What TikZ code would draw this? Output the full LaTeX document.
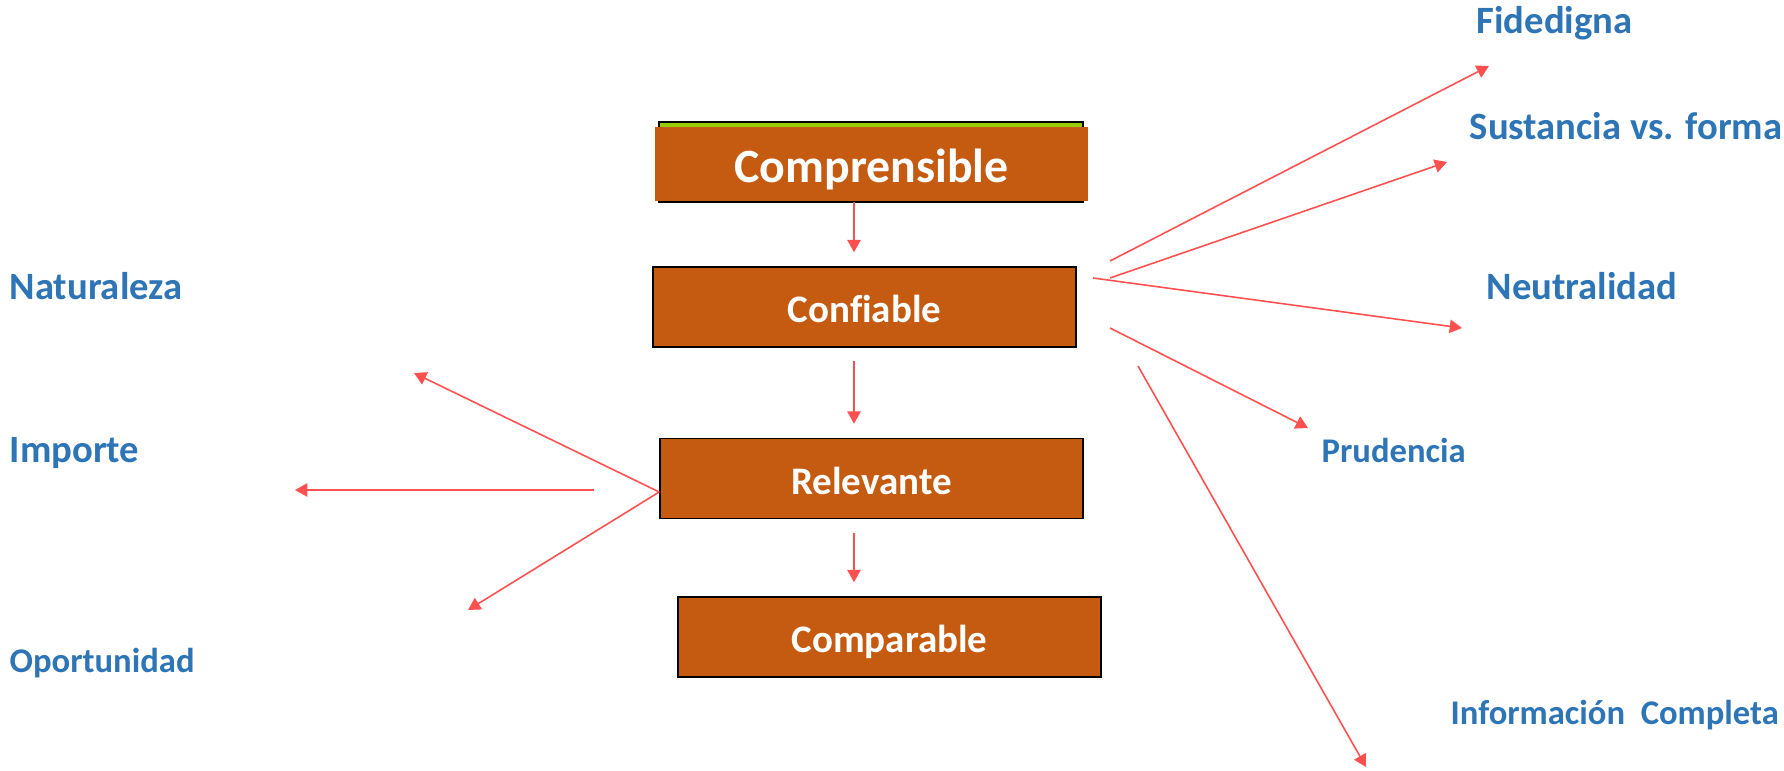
\documentclass[tikz,border=0pt]{standalone}
\usepackage{fontspec}
\setmainfont{Carlito}[Ligatures=NoCommon]
\usetikzlibrary{arrows.meta}

\definecolor{naranja}{RGB}{197,90,17}
\definecolor{verde}{RGB}{153,204,0}
\definecolor{azul}{RGB}{46,117,182}
\definecolor{rojo}{RGB}{255,80,80}

\tikzset{
    caja/.style={draw=black,line width=0.45pt,fill=naranja,text=white,inner sep=0pt,
        text height=9.1pt,text depth=0pt,
        minimum width=4.23cm,minimum height=0.8cm,font=\bfseries\fontsize{11.1}{13}\selectfont},
    etiqueta/.style={anchor=base west,inner sep=0pt,text=azul,font=\bfseries\fontsize{11}{13}\selectfont},
    chica/.style={etiqueta,font=\bfseries\fontsize{9.85}{12}\selectfont},
    flecha/.style={draw=rojo,line width=0.45pt,-{Triangle[length=3.5pt,width=3.8pt]}},
}

\begin{document}
\begin{tikzpicture}
    \useasboundingbox (0,0) rectangle (17.84,-7.71);
    % cajas del centro
    \node [draw=black,line width=0.45pt,fill=verde,minimum width=4.24cm,minimum height=0.8cm] (marco) at (8.71,-1.62) {};
    \node [caja,draw=none,minimum width=4.33cm,minimum height=0.74cm,text height=10.8pt,
        font=\bfseries\fontsize{13.6}{16}\selectfont] (comprensible) at (8.715,-1.64) {Comprensible};
    \node [caja] (confiable)  at (8.645,-3.07)  {Confiable};
    \node [caja] (relevante)  at (8.715,-4.785) {Relevante};
    \node [caja] (comparable) at (8.895,-6.37)  {Comparable};

    \coordinate (eje) at (8.54,0);
    \draw [flecha,shorten >=1.4mm] (comprensible.south -| eje) -- (confiable.north -| eje);
    \draw [flecha,shorten <=1.3mm,shorten >=1.4mm] (confiable.south -| eje) -- (relevante.north -| eje);
    \draw [flecha,shorten <=1.4mm,shorten >=1.4mm] (relevante.south -| eje) -- (comparable.north -| eje);

    % textos
    \node [etiqueta] (fidedigna)   at (14.76,-0.34) {Fidedigna};
    \node [etiqueta] (sustancia)   at (14.69,-1.40) {Sustancia vs. forma};
    \node [etiqueta] (neutralidad) at (14.86,-2.99) {Neutralidad};
    \node [chica]    (prudencia)   at (13.21,-4.62) {Prudencia};
    \node [chica]    (informacion) at (14.50,-7.24) {Información\ \ Completa};
    \node [etiqueta] (naturaleza)  at (0.09,-3.00)  {Naturaleza};
    \node [etiqueta] (importe)     at (0.09,-4.62)  {Importe};
    \node [chica]    (oportunidad) at (0.09,-6.72)  {Oportunidad};

    % flechas a la derecha de Confiable
    \coordinate (d1) at (11.10,-2.61); \coordinate (p1) at (14.89,-0.66);
    \coordinate (d2) at (11.10,-2.78); \coordinate (p2) at (14.47,-1.62);
    \coordinate (d3) at (10.93,-2.78); \coordinate (p3) at (14.62,-3.28);
    \coordinate (d4) at (11.10,-3.28); \coordinate (p4) at (13.08,-4.28);
    \coordinate (d5) at (11.38,-3.66); \coordinate (p5) at (13.66,-7.67);
    \foreach \i in {1,...,5}
        \draw [flecha] (d\i) -- (p\i);

    % flechas a la izquierda de Relevante
    \coordinate (vertice) at ([yshift=-1.35mm]relevante.west);
    \coordinate (i2) at (5.94,-4.90);
    \coordinate (q1) at (4.14,-3.73);
    \coordinate (q2) at (2.95,-4.90);
    \coordinate (q3) at (4.68,-6.10);
    \draw [flecha] (vertice) -- (q1);
    \draw [flecha] (i2) -- (q2);
    \draw [flecha] (vertice) -- (q3);
\end{tikzpicture}
\end{document}
